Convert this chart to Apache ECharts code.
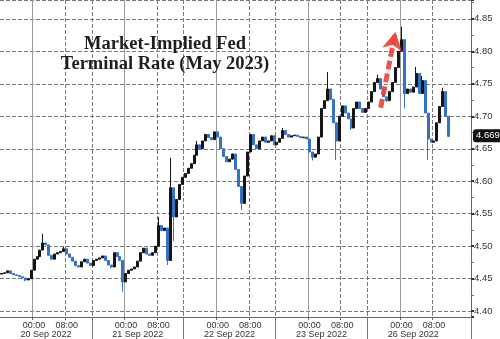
<!DOCTYPE html>
<html><head><meta charset="utf-8">
<script src="https://cdn.jsdelivr.net/npm/echarts@6/dist/echarts.min.js"></script>
<style>html,body{margin:0;padding:0;background:#fff}#c{width:500px;height:339px}</style>
</head><body><div id="c"></div>
<script>
// ---- data ----
const days = ['20 Sep 2022', '21 Sep 2022', '22 Sep 2022', '23 Sep 2022', '26 Sep 2022'];
const slotsPerDay = 31;          // candles per trading session
const padSlots = 4;              // empty slots after the last session
const timeTickLabels = {11: '00:00', 22: '08:00'};
const dateLabelSlot = 15;
const firstOpen = 4.457;
const closes = [
  // 20 Sep
  4.458, 4.459, 4.462, 4.458, 4.456, 4.455, 4.453, 4.451, 4.448, 4.450, 4.463,
  4.480, 4.484, 4.494, 4.505, 4.502, 4.486, 4.480, 4.488, 4.490, 4.492, 4.496,
  4.488, 4.483, 4.477, 4.470, 4.468, 4.476, 4.480, 4.474, 4.470,
  // 21 Sep
  4.478, 4.480, 4.482, 4.485, 4.478, 4.471, 4.468, 4.490, 4.484, 4.478, 4.445,
  4.458, 4.463, 4.465, 4.468, 4.477, 4.490, 4.497, 4.488, 4.486, 4.490, 4.500,
  4.532, 4.524, 4.528, 4.478, 4.590, 4.545, 4.572, 4.595, 4.606,
  // 22 Sep
  4.612, 4.620, 4.627, 4.640, 4.656, 4.650, 4.662, 4.672, 4.667, 4.664, 4.676,
  4.668, 4.650, 4.638, 4.630, 4.634, 4.642, 4.618, 4.592, 4.566, 4.608, 4.645,
  4.672, 4.656, 4.650, 4.662, 4.668, 4.660, 4.662, 4.670, 4.656,
  // 23 Sep
  4.660, 4.666, 4.678, 4.672, 4.668, 4.670, 4.671, 4.669, 4.667, 4.668, 4.665,
  4.645, 4.637, 4.642, 4.668, 4.712, 4.724, 4.742, 4.726, 4.690, 4.662, 4.700,
  4.716, 4.705, 4.696, 4.682, 4.712, 4.722, 4.712, 4.706, 4.712,
  // 26 Sep
  4.722, 4.738, 4.752, 4.758, 4.742, 4.730, 4.724, 4.738, 4.752, 4.775, 4.800,
  4.818, 4.735, 4.742, 4.737, 4.745, 4.766, 4.735, 4.755, 4.705, 4.665, 4.660,
  4.662, 4.690, 4.715, 4.738, 4.700, 4.669
];
const highWicks = {14: 4.519, 21: 4.499, 53: 4.545, 57: 4.636, 66: 4.662, 95: 4.682,
  110: 4.768, 127: 4.764, 135: 4.838, 140: 4.776, 142: 4.762, 149: 4.744};
const lowWicks = {8: 4.446, 37: 4.466, 41: 4.430, 56: 4.471, 58: 4.508, 81: 4.556,
  105: 4.632, 113: 4.633, 118: 4.679, 130: 4.722, 136: 4.712, 144: 4.633};
const lastPrice = 4.669;
const yMin = 4.391, yMax = 4.879;
const arrowFrom = [128.1, 4.713];
const arrowTo = [133.3, 4.830];

// ---- build ----
const daySlots = days.length * slotsPerDay;
const cats = [];
days.forEach(d => { for (let s = 0; s < slotsPerDay; s++) cats.push(d + ' #' + s); });
for (let k = 0; k < padSlots; k++) cats.push('pad' + k);

const ohlc = closes.map((c, i) => {
  const o = i === 0 ? firstOpen : closes[i - 1];
  let lo = Math.min(o, c), hi = Math.max(o, c);
  if (lowWicks[i] !== undefined) lo = Math.min(lo, lowWicks[i]);
  if (highWicks[i] !== undefined) hi = Math.max(hi, highWicks[i]);
  return [o, c, lo, hi];
});

const font = 'Liberation Sans';
const gridDot = {color: '#7a7a7a', width: 1, type: 'dashed'};
const chart = echarts.init(document.getElementById('c'), null, {renderer: 'canvas'});
chart.setOption({
  animation: false,
  backgroundColor: '#fff',
  title: {
    text: 'Market-Implied Fed\nTerminal Rate (May 2023)',
    left: 160, top: 29, textAlign: 'center',
    textStyle: {fontFamily: 'Liberation Serif', fontSize: 18.5, fontWeight: 'bold', color: '#1e1e1e', lineHeight: 20}
  },
  grid: {left: 0, right: 29, top: 0, bottom: 22},
  xAxis: [{
    type: 'category', data: cats, position: 'bottom', boundaryGap: true,
    axisLine: {show: true, lineStyle: {color: '#666', width: 1}},
    axisTick: {show: true, length: 3, lineStyle: {color: '#666'},
      interval: i => i < daySlots && timeTickLabels[i % slotsPerDay] !== undefined},
    axisLabel: {show: true, margin: 4, fontSize: 9, color: '#333', fontFamily: font,
      interval: i => i < daySlots && timeTickLabels[i % slotsPerDay] !== undefined,
      formatter: (v, i) => timeTickLabels[i % slotsPerDay] || ''},
    splitLine: {show: true, lineStyle: {color: '#9a9a9a', width: 1, type: 'solid'},
      interval: i => i < daySlots && i % slotsPerDay === 11}
  }, {
    type: 'category', data: cats, position: 'bottom', boundaryGap: true,
    axisLine: {show: false},
    axisTick: {show: true, length: 22, lineStyle: {color: '#777'},
      interval: i => i > 0 && i < daySlots && i % slotsPerDay === 0},
    axisLabel: {show: true, margin: 13, fontSize: 9, color: '#333', fontFamily: font,
      interval: i => i < daySlots && i % slotsPerDay === dateLabelSlot,
      formatter: (v, i) => days[Math.floor(i / slotsPerDay)] || ''},
    splitLine: {show: true, lineStyle: gridDot,
      interval: i => i < daySlots && (i % slotsPerDay === 22 || (i > 0 && i % slotsPerDay === 0))}
  }],
  yAxis: {
    type: 'value', position: 'right', min: yMin, max: yMax, splitNumber: 10,
    axisLine: {show: true, lineStyle: {color: '#666'}},
    axisTick: {show: true, length: 3, lineStyle: {color: '#333', width: 2}},
    minorTick: {show: true, splitNumber: 2, length: 3, lineStyle: {color: '#777'}},
    axisLabel: {margin: 3, fontSize: 9.5, color: '#333', fontFamily: font,
      showMinLabel: false, showMaxLabel: false, formatter: v => v.toFixed(2)},
    splitLine: {show: true, lineStyle: gridDot}
  },
  series: [{
    type: 'candlestick', xAxisIndex: 0, data: ohlc, barWidth: 2.5,
    itemStyle: {color: '#151515', color0: '#3572c6', borderColor: '#151515', borderColor0: '#3572c6', borderWidth: 1},
    markLine: {
      silent: true, animation: false, symbol: 'none',
      data: [
        {yAxis: lastPrice, lineStyle: {color: 'rgba(0,0,0,0)', width: 0},
         label: {show: true, position: 'end', distance: 2, formatter: lastPrice.toFixed(3),
           backgroundColor: '#111', color: '#fff', padding: [2, 3, 1, 3], borderRadius: 3,
           fontSize: 9.5, fontFamily: font, opacity: 1}},
        [{coord: arrowFrom, symbol: 'none',
          lineStyle: {color: '#e8473d', width: 5, type: [9, 4], opacity: 0.92},
          label: {show: false}},
         {coord: arrowTo, symbol: 'arrow', symbolSize: [15, 18]}]
      ]
    }
  }]
});
</script></body></html>
